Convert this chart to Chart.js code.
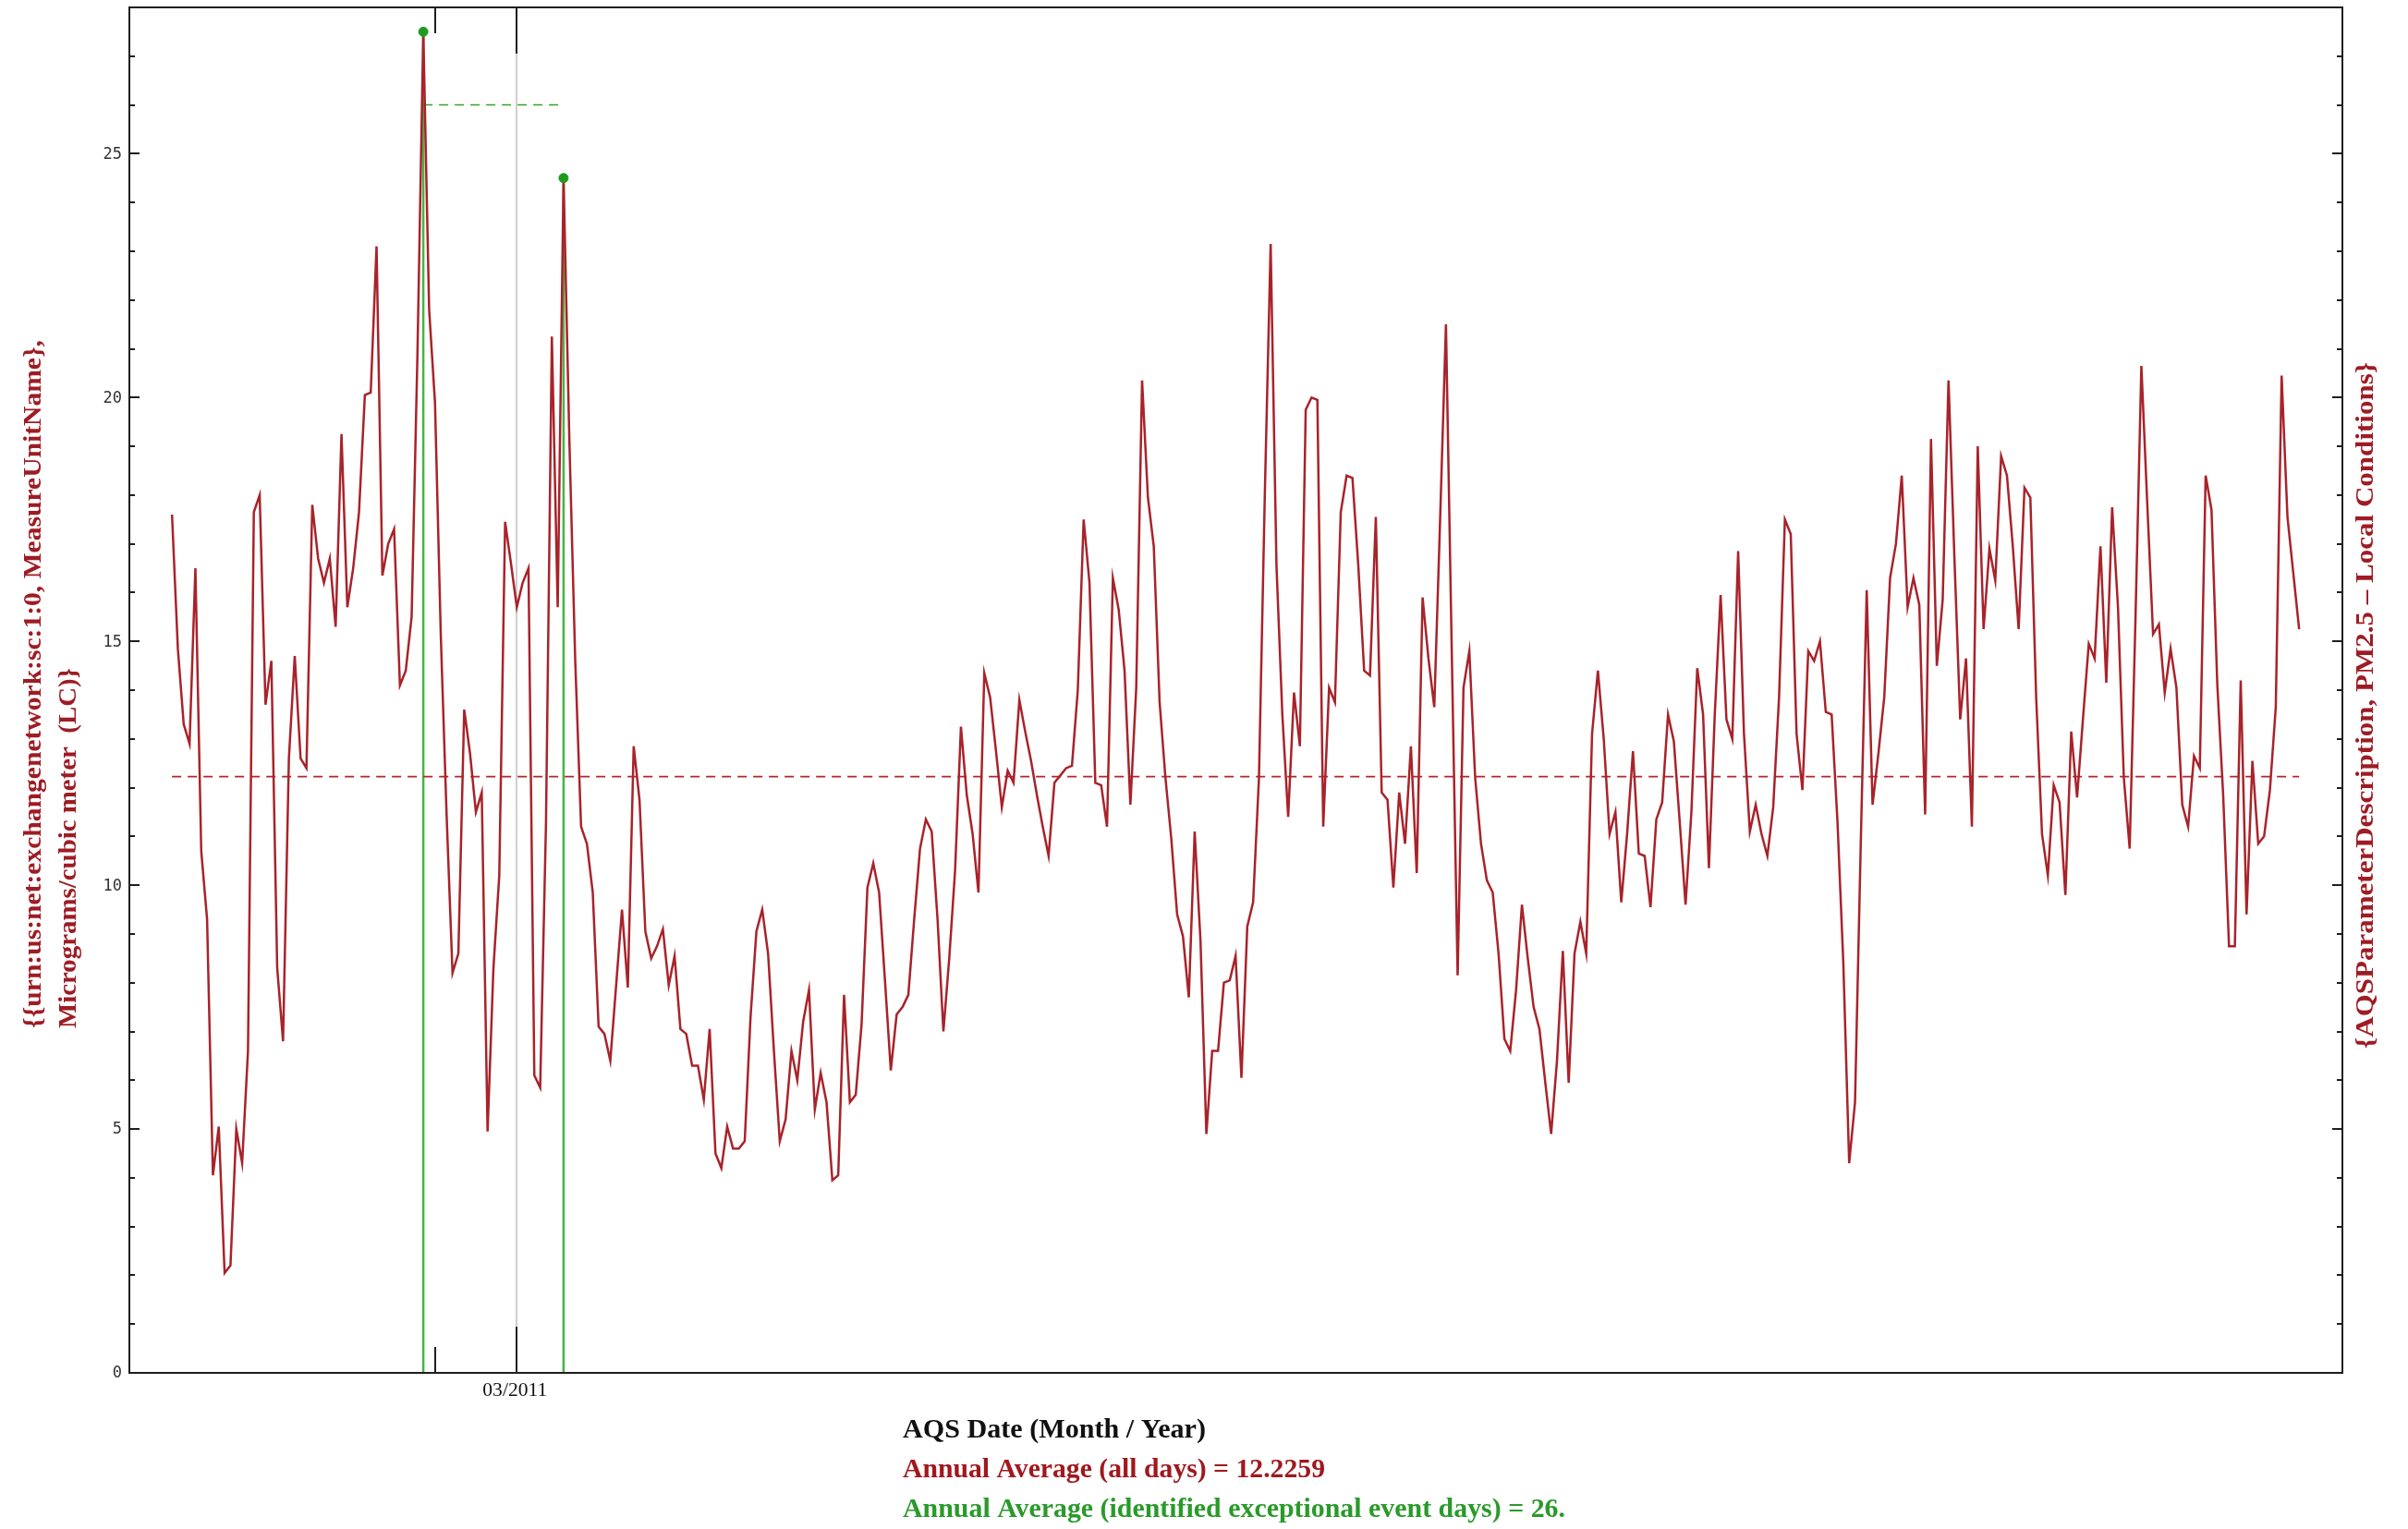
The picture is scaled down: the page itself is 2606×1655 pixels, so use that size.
<!DOCTYPE html>
<html lang="en">

<head>
    <meta charset="UTF-8">
    <title>PM2.5 Daily Values 2011</title>
    <style>
        body {
            margin: 0;
            background-color: #ffffff;
        }

        #chartBox {
            width: 2606px;
            height: 1655px;
        }
    </style>
</head>

<body>

    <div id="chartBox">
        <canvas id="pmChart" width="2606" height="1655"></canvas>
    </div>

    <script src="https://cdn.jsdelivr.net/npm/chart.js"></script>
    <script>
        // Daily PM2.5 values for 2011, one per day starting Jan 1 (day index 0)
        const pm25 = [
            17.6, 14.85, 13.3, 12.9, 16.5, 10.7, 9.3, 4.05, 5.05, 2.05,
            2.2, 5.0, 4.3, 6.6, 17.65, 18.0, 13.7, 14.6, 8.3, 6.8,
            12.6, 14.7, 12.6, 12.4, 17.8, 16.7, 16.2, 16.7, 15.3, 19.25,
            15.7, 16.5, 17.65, 20.05, 20.1, 23.1, 16.35, 17.0, 17.3, 14.1,
            14.4, 15.5, 20.9, 27.5, 21.8, 19.9, 15.1, 11.4, 8.2, 8.6,
            13.6, 12.7, 11.5, 11.9, 4.95, 8.3, 10.2, 17.45, 16.6, 15.7,
            16.2, 16.5, 6.1, 5.85, 11.3, 21.25, 15.7, 24.5, 19.1, 14.6,
            11.2, 10.85, 9.85, 7.1, 6.95, 6.4, 7.95, 9.5, 7.9, 12.85,
            11.75, 9.05, 8.5, 8.75, 9.1, 7.95, 8.55, 7.05, 6.95, 6.3,
            6.3, 5.6, 7.05, 4.5, 4.2, 5.05, 4.6, 4.6, 4.75, 7.3,
            9.05, 9.5, 8.6, 6.6, 4.75, 5.2, 6.6, 6.0, 7.2, 7.85,
            5.4, 6.15, 5.55, 3.95, 4.05, 7.75, 5.55, 5.7, 7.15, 9.95,
            10.45, 9.85, 8.05, 6.2, 7.35, 7.5, 7.75, 9.3, 10.75, 11.35,
            11.1, 9.3, 7.0, 8.5, 10.3, 13.25, 11.85, 11.05, 9.85, 14.35,
            13.85, 12.75, 11.6, 12.35, 12.1, 13.8, 13.15, 12.55, 11.85, 11.2,
            10.6, 12.1, 12.25, 12.4, 12.45, 14.0, 17.5, 16.2, 12.1, 12.05,
            11.2, 16.3, 15.65, 14.4, 11.65, 14.05, 20.35, 17.95, 16.95, 13.75,
            12.2, 10.95, 9.4, 8.95, 7.7, 11.1, 8.85, 4.9, 6.6, 6.6,
            8.0, 8.05, 8.55, 6.05, 9.15, 9.65, 12.2, 18.0, 23.15, 16.55,
            13.5, 11.4, 13.95, 12.85, 19.75, 20.0, 19.95, 11.2, 14.05, 13.75,
            17.65, 18.4, 18.35, 16.55, 14.4, 14.3, 17.55, 11.9, 11.75, 9.95,
            11.9, 10.85, 12.85, 10.25, 15.9, 14.65, 13.65, 17.5, 21.5, 14.75,
            8.15, 14.05, 14.8, 12.2, 10.85, 10.1, 9.85, 8.6, 6.85, 6.6,
            7.85, 9.6, 8.5, 7.5, 7.05, 5.95, 4.9, 6.4, 8.65, 5.95,
            8.6, 9.25, 8.6, 13.1, 14.4, 13.0, 11.05, 11.5, 9.65, 11.05,
            12.75, 10.65, 10.6, 9.55, 11.35, 11.7, 13.5, 12.95, 11.3, 9.6,
            11.5, 14.45, 13.5, 10.35, 13.5, 15.95, 13.4, 13.0, 16.85, 13.1,
            11.1, 11.65, 11.05, 10.6, 11.6, 13.85, 17.5, 17.2, 13.1, 11.95,
            14.8, 14.6, 15.0, 13.55, 13.5, 11.3, 8.4, 4.3, 5.55, 10.95,
            16.05, 11.65, 12.7, 13.85, 16.3, 17.0, 18.4, 15.7, 16.3, 15.75,
            11.45, 19.15, 14.5, 15.85, 20.35, 16.75, 13.4, 14.65, 11.2, 19.0,
            15.25, 16.9, 16.25, 18.8, 18.4, 16.95, 15.25, 18.15, 17.95, 13.85,
            11.05, 10.2, 12.05, 11.7, 9.8, 13.15, 11.8, 13.4, 14.95, 14.65,
            16.95, 14.15, 17.75, 15.7, 12.2, 10.75, 15.5, 20.65, 17.85, 15.15,
            15.35, 13.95, 14.85, 14.05, 11.65, 11.2, 12.65, 12.4, 18.4, 17.7,
            14.1, 11.85, 8.75, 8.75, 14.2, 9.4, 12.55, 10.85, 11.0, 11.95,
            13.65, 20.45, 17.55, 16.4, 15.25
        ];

        // Identified exceptional event days (day index) and their values
        const eventDays = [43, 67];
        const eventValues = [27.5, 24.5];

        const annualAverage = 12.2259;
        const eventAverage = 26;

        // Axis ticks
        const yMajorTicks = [0, 5, 10, 15, 20, 25];
        const yMinorStep = 1;
        const xTickDays = [59];
        const xTickLabels = ['03/2011'];
        const xMinorTickDays = [45];

        const yTitleLines = [
            '{{urn:us:net:exchangenetwork:sc:1:0, MeasureUnitName},',
            'Micrograms/cubic meter  (LC)}'
        ];
        const rightTitle = '{AQSParameterDescription, PM2.5 \u2013 Local Conditions}';
        const xTitle = 'AQS Date (Month / Year)';
        const allDaysText = 'Annual Average (all days) = ' + annualAverage;
        const eventDaysText = 'Annual Average (identified exceptional event days) = ' + eventAverage + '.';

        const lineRed = '#a8232a';
        const titleRed = '#9e1c24';
        const green = '#2fa52f';

        // Draw text stretched to a given length (optionally rotated)
        function fitText(ctx, text, x, y, width, size, color, rot, align, weight) {
            ctx.save();
            ctx.translate(x, y);
            if (rot) ctx.rotate(rot);
            ctx.font = (weight || 'bold') + ' ' + size + 'px "Liberation Serif", "Times New Roman", serif';
            const w = ctx.measureText(text).width;
            ctx.scale(width / w, 1);
            ctx.fillStyle = color;
            ctx.textAlign = align || 'left';
            ctx.textBaseline = 'middle';
            ctx.fillText(text, 0, 0);
            ctx.restore();
        }

        // Background grid line for the labelled date
        const gridPlugin = {
            id: 'dateGrid',
            beforeDatasetsDraw(chart) {
                const { ctx, chartArea, scales } = chart;
                ctx.save();
                ctx.strokeStyle = '#cfcfcf';
                ctx.lineWidth = 2;
                xTickDays.forEach(d => {
                    const px = Math.round(scales.x.getPixelForValue(d));
                    ctx.beginPath();
                    ctx.moveTo(px, chartArea.top);
                    ctx.lineTo(px, chartArea.bottom);
                    ctx.stroke();
                });
                ctx.restore();
            }
        };

        // Frame, inward ticks, tick labels and titles
        const framePlugin = {
            id: 'frame',
            afterDatasetsDraw(chart) {
                const { ctx, chartArea, scales } = chart;
                const { left, right, top, bottom } = chartArea;
                ctx.save();
                ctx.strokeStyle = '#1e1e1e';
                ctx.lineWidth = 2;
                ctx.strokeRect(left, top, right - left, bottom - top);

                // y ticks on both sides
                for (let v = 0; v <= scales.y.max; v += yMinorStep) {
                    const py = Math.round(scales.y.getPixelForValue(v));
                    const len = yMajorTicks.includes(v) ? 11 : 6;
                    ctx.beginPath();
                    ctx.moveTo(left, py);
                    ctx.lineTo(left + len, py);
                    ctx.moveTo(right, py);
                    ctx.lineTo(right - len, py);
                    ctx.stroke();
                }

                // x ticks top and bottom
                xTickDays.concat(xMinorTickDays).forEach(d => {
                    const px = Math.round(scales.x.getPixelForValue(d));
                    const len = xTickDays.includes(d) ? 50 : 28;
                    ctx.beginPath();
                    ctx.moveTo(px, bottom);
                    ctx.lineTo(px, bottom - len);
                    ctx.moveTo(px, top);
                    ctx.lineTo(px, top + len);
                    ctx.stroke();
                });

                // y tick labels
                ctx.fillStyle = '#333333';
                ctx.font = '17px "DejaVu Sans Mono", monospace';
                ctx.textAlign = 'right';
                ctx.textBaseline = 'middle';
                yMajorTicks.forEach(v => {
                    ctx.fillText(String(v), left - 8, scales.y.getPixelForValue(v) + 1);
                });

                // x tick labels
                xTickDays.forEach((d, i) => {
                    const px = scales.x.getPixelForValue(d);
                    fitText(ctx, xTickLabels[i], px - 2, bottom + 20, 70, 20, '#111111', 0, 'center', 'normal');
                });

                // axis titles
                fitText(ctx, yTitleLines[0], 37, 1113, 745, 28, titleRed, -Math.PI / 2);
                fitText(ctx, yTitleLines[1], 75, 1113, 390, 28, titleRed, -Math.PI / 2);
                fitText(ctx, rightTitle, 2561, 1135, 743, 28, titleRed, -Math.PI / 2);

                fitText(ctx, xTitle, 977, 1549, 328, 29, '#111111');
                fitText(ctx, allDaysText, 977, 1592, 457, 29, '#a0181e');
                fitText(ctx, eventDaysText, 977, 1635, 717, 29, '#2a9a2a');
                ctx.restore();
            }
        };

        const seriesPoints = pm25.map((v, i) => ({ x: i, y: v }));
        const lastDay = pm25.length - 1;

        // Datasets: first in list is drawn on top
        const datasets = [
            {
                type: 'scatter',
                data: eventDays.map((d, i) => ({ x: d, y: eventValues[i] })),
                backgroundColor: '#1f9a1f',
                borderColor: '#1f9a1f',
                pointRadius: 5,
                pointHoverRadius: 5
            },
            {
                data: seriesPoints,
                borderColor: lineRed,
                borderWidth: 2.5,
                pointRadius: 0,
                tension: 0
            },
            {
                data: [{ x: 0, y: annualAverage }, { x: lastDay, y: annualAverage }],
                borderColor: '#b0272d',
                borderWidth: 1.6,
                borderDash: [10, 7],
                pointRadius: 0
            },
            {
                data: [{ x: eventDays[0], y: eventAverage }, { x: eventDays[eventDays.length - 1], y: eventAverage }],
                borderColor: green,
                borderWidth: 1.6,
                borderDash: [10, 7],
                pointRadius: 0
            }
        ].concat(eventDays.map((d, i) => ({
            data: [{ x: d, y: 0 }, { x: d, y: eventValues[i] }],
            borderColor: '#45b545',
            borderWidth: 2.5,
            pointRadius: 0
        })));

        const ctx = document.getElementById('pmChart').getContext('2d');
        new Chart(ctx, {
            type: 'line',
            data: { datasets: datasets },
            options: {
                responsive: false,
                animation: false,
                devicePixelRatio: 1,
                layout: {
                    padding: { left: 140, right: 71, top: 8, bottom: 169 }
                },
                plugins: {
                    legend: { display: false },
                    tooltip: { enabled: false }
                },
                scales: {
                    x: { type: 'linear', min: -7.3, max: 371.4, display: false },
                    y: { type: 'linear', min: 0, max: 28, display: false }
                }
            },
            plugins: [gridPlugin, framePlugin]
        });
    </script>
</body>

</html>
